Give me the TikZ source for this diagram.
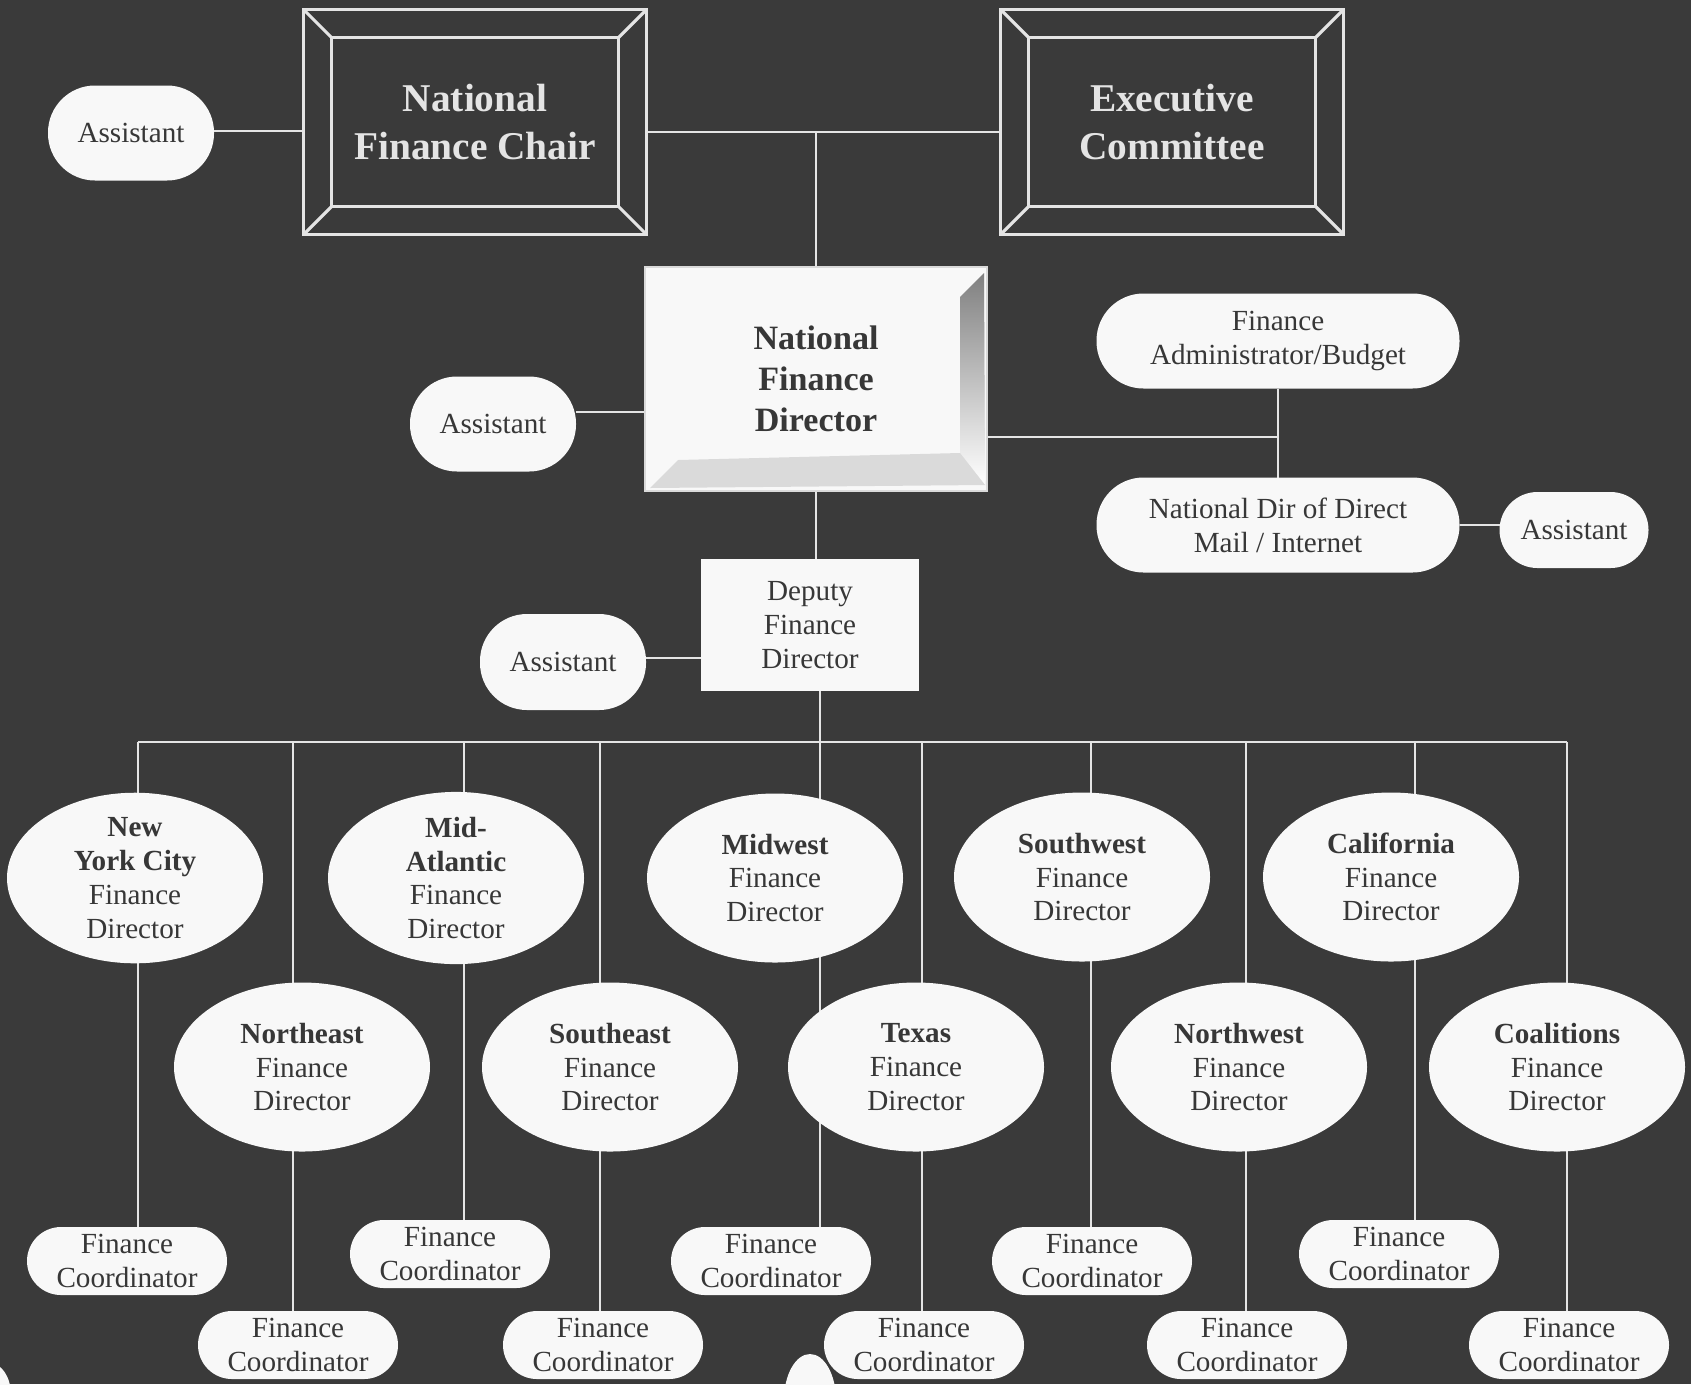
\documentclass[tikz,border=0pt]{standalone}
\usepackage{fontspec}
\setmainfont{Liberation Serif}
\usetikzlibrary{shapes.geometric}

\definecolor{board}{RGB}{58,58,58}
\definecolor{chalk}{RGB}{228,228,228}
\definecolor{paper}{RGB}{248,248,248}
\definecolor{ink}{RGB}{55,55,55}
\definecolor{shade}{RGB}{100,100,100}
\definecolor{speck}{RGB}{218,218,218}
\pgfdeclarelayer{back}\pgfdeclarelayer{wires}
\pgfsetlayers{back,wires,main}

\begin{document}
\begin{tikzpicture}[x = 0.1mm, y = -0.1mm, % pixel grid, y runs down
                color = chalk, % line colour
                line width = 0.7pt % line style
            ]

            \tikzstyle{every node}=[text = ink, align = center, outer sep = 0pt,
            inner sep = 0.5mm, font = \fontsize{8.3}{9.6}\selectfont]
            \tikzstyle{wire}=[draw = chalk, line width = 0.7pt]
            \tikzstyle{frame}=[draw = chalk, line width = 0.9pt, text = chalk,
            minimum width = 34.3mm, minimum height = 22.5mm,
            font = \bfseries\fontsize{11.2}{13.6}\selectfont]
            \tikzstyle{pill}=[fill = paper, rounded corners = 4.7mm,
            minimum width = 16.6mm, minimum height = 9.5mm]
            \tikzstyle{fincoord}=[fill = paper, rounded corners = 3.4mm,
            minimum width = 20mm, minimum height = 6.8mm]
            \tikzstyle{region}=[ellipse, fill = paper, inner sep = 0pt,
            minimum width = 25.6mm, minimum height = 16.9mm]

            \useasboundingbox (0,0) rectangle (1691,1384);
            \begin{pgfonlayer}{back}
            \fill[board] (0,0) rectangle (1691,1384);
            \end{pgfonlayer}

            % top row
            \node[frame] (nfc) at (475,122) {National\\Finance Chair};
            \node[frame] (ec) at (1172,122) {Executive\\Committee};
            \node[pill] (as1) at (131,133) {Assistant};
            \foreach \n in {nfc,ec} {
              \draw[line width = 0.9pt] ([shift={(2.8mm,-2.8mm)}]\n.north west)
              rectangle ([shift={(-2.8mm,2.8mm)}]\n.south east);
              \draw[line width = 0.9pt] (\n.north west) -- ++(2.8mm,-2.8mm)
              (\n.north east) -- ++(-2.8mm,-2.8mm) (\n.south west) --
              ++(2.8mm,2.8mm) (\n.south east) -- ++(-2.8mm,2.8mm);
            }

            % director
            \node[fill = paper, draw = speck, line width = 0.5pt,
            minimum width = 34.2mm, minimum height = 22.4mm,
            font = \bfseries\fontsize{9.7}{11.7}\selectfont]
            (nfd) at (816,379) {National\\Finance\\Director};
            \fill[shade] ([shift={(-0.3mm,-0.6mm)}]nfd.north east) --
            ([shift={(-2.7mm,-3mm)}]nfd.north east) --
            ([shift={(-2.7mm,3.8mm)}]nfd.south east) --
            ([shift={(-0.2mm,0.6mm)}]nfd.south east) -- cycle;
            \fill[speck] ([shift={(0.5mm,0.3mm)}]nfd.south west) --
            ([shift={(3.3mm,3.1mm)}]nfd.south west) --
            ([shift={(-2.7mm,3.8mm)}]nfd.south east) --
            ([shift={(-0.2mm,0.6mm)}]nfd.south east) -- cycle;
            \node[pill] (as2) at (493,424) {Assistant};
            \node[pill, minimum width = 36.3mm] (fab) at (1278,341)
            {Finance\\Administrator/Budget};
            \node[pill, minimum width = 36.3mm] (nddm) at (1278,525)
            {National Dir of Direct\\Mail / Internet};
            \node[pill, minimum width = 14.9mm, minimum height = 7.6mm,
            rounded corners = 3.8mm] (as4) at (1574,530) {Assistant};

            % deputy
            \node[fill = paper, minimum width = 21.8mm, minimum height = 13.2mm]
            (dfd) at (810,625) {Deputy\\Finance\\Director};
            \node[pill, minimum height = 9.6mm] (as3) at (563,662) {Assistant};

            % regions
            \node[region] (nyc) at (135,878)
            {\textbf{New}\\\textbf{York City}\\Finance\\Director};
            \node[region] (ma) at (456,878)
            {\textbf{Mid-}\\\textbf{Atlantic}\\Finance\\Director};
            \node[region] (mw) at (775,878) {\textbf{Midwest}\\Finance\\Director};
            \node[region] (sw) at (1082,877) {\textbf{Southwest}\\Finance\\Director};
            \node[region] (ca) at (1391,877) {\textbf{California}\\Finance\\Director};
            \node[region] (ne) at (302,1067) {\textbf{Northeast}\\Finance\\Director};
            \node[region] (se) at (610,1067) {\textbf{Southeast}\\Finance\\Director};
            \node[region] (tx) at (916,1067) {\textbf{Texas}\\Finance\\Director};
            \node[region] (nw) at (1239,1067) {\textbf{Northwest}\\Finance\\Director};
            \node[region] (co) at (1557,1067) {\textbf{Coalitions}\\Finance\\Director};

            % coordinators
            \foreach \n/\x/\y in {1/127/1261, 2/298/1345, 3/450/1254, 4/603/1345,
              5/771/1261, 6/924/1345, 7/1092/1261, 8/1247/1345, 9/1399/1254,
              10/1569/1345}
              \node[fincoord] (fc\n) at (\x,\y) {Finance\\Coordinator};

            \fill[paper] (810,1400) ellipse (2.6mm and 4.6mm);
            \fill[paper] (-10,1395) ellipse (2.1mm and 3.2mm);

            % connectors
            \begin{pgfonlayer}{wires}
            \coordinate (t) at (816,132); \coordinate (j) at (1278,437);
            \coordinate (l1) at (0,131); \coordinate (l2) at (0,412);
            \coordinate (l3) at (0,658);
            \draw[wire] (nfc.east |- t) -- (ec.west |- t);
            \draw[wire] (t) -- (t |- nfd.north);
            \draw[wire] (as1.east |- l1) -- (nfc.west |- l1);
            \draw[wire] (as2.east |- l2) -- (nfd.west |- l2);
            \draw[wire] (nfd.east |- j) -- (j); \draw[wire] (fab.south) -- (nddm.north);
            \draw[wire] (nddm.east) -- (nddm.east -| as4.west);
            \draw[wire] (nfd.south) -- (nfd.south |- dfd.north);
            \draw[wire] (as3.east |- l3) -- (dfd.west |- l3);
            \foreach \n/\x in {1/138, 2/293, 3/464, 4/600, 5/820, 6/922, 7/1091,
              8/1246, 9/1415, 10/1567} {
              \coordinate (d\n) at (\x,742);
              \draw[wire] (d\n) -- (d\n |- fc\n.north);
            }
            \draw[wire] (d1) -- (d10); \draw[wire] (dfd.south -| d5) -- (d5);
            \end{pgfonlayer}
\end{tikzpicture}
\end{document}
